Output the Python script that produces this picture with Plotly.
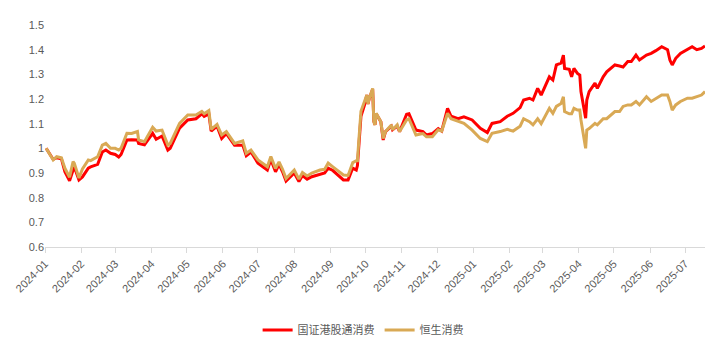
import plotly.graph_objects as go

dates = [
    "2024-01-02", "2024-01-08", "2024-01-11", "2024-01-15", "2024-01-18", "2024-01-22", "2024-01-25",
    "2024-01-26", "2024-01-30", "2024-02-02", "2024-02-07", "2024-02-09", "2024-02-15", "2024-02-19",
    "2024-02-22", "2024-02-26", "2024-03-01", "2024-03-04", "2024-03-06", "2024-03-11", "2024-03-15",
    "2024-03-20", "2024-03-21", "2024-03-26", "2024-04-02", "2024-04-05", "2024-04-10", "2024-04-15",
    "2024-04-17", "2024-04-25", "2024-05-02", "2024-05-09", "2024-05-14", "2024-05-16", "2024-05-20",
    "2024-05-22", "2024-05-27", "2024-05-31", "2024-06-04", "2024-06-11", "2024-06-18", "2024-06-21",
    "2024-06-25", "2024-07-01", "2024-07-09", "2024-07-12", "2024-07-16", "2024-07-19", "2024-07-22",
    "2024-07-25", "2024-08-01", "2024-08-05", "2024-08-08", "2024-08-12", "2024-08-16", "2024-08-23",
    "2024-08-27", "2024-08-30", "2024-09-03", "2024-09-12", "2024-09-16", "2024-09-20", "2024-09-23",
    "2024-09-24", "2024-09-25", "2024-09-26", "2024-09-27", "2024-09-30", "2024-10-02", "2024-10-03",
    "2024-10-04", "2024-10-07", "2024-10-08", "2024-10-09", "2024-10-10", "2024-10-14", "2024-10-16",
    "2024-10-18", "2024-10-23", "2024-10-24", "2024-10-28", "2024-10-30", "2024-11-05", "2024-11-07",
    "2024-11-13", "2024-11-19", "2024-11-22", "2024-11-27", "2024-12-02", "2024-12-05", "2024-12-10",
    "2024-12-13", "2024-12-19", "2024-12-24", "2024-12-31", "2025-01-07", "2025-01-13", "2025-01-17",
    "2025-01-24", "2025-01-30", "2025-02-04", "2025-02-10", "2025-02-13", "2025-02-18", "2025-02-21",
    "2025-02-25", "2025-02-28", "2025-03-07", "2025-03-10", "2025-03-13", "2025-03-17", "2025-03-19",
    "2025-03-20", "2025-03-24", "2025-03-26", "2025-03-28", "2025-03-31", "2025-04-02", "2025-04-03",
    "2025-04-07", "2025-04-08", "2025-04-10", "2025-04-15", "2025-04-17", "2025-04-22", "2025-04-25",
    "2025-05-02", "2025-05-06", "2025-05-09", "2025-05-13", "2025-05-16", "2025-05-20", "2025-05-23",
    "2025-05-29", "2025-06-02", "2025-06-06", "2025-06-11", "2025-06-16", "2025-06-18", "2025-06-20",
    "2025-06-23", "2025-06-27", "2025-07-03", "2025-07-07", "2025-07-11", "2025-07-15", "2025-07-18",
]

hk_connect_consumption = [
    1.000, 0.955, 0.962, 0.958, 0.905, 0.868, 0.912,
    0.925, 0.872, 0.884, 0.920, 0.925, 0.935, 0.985,
    0.993, 0.980, 0.975, 0.965, 0.975, 1.034, 1.035,
    1.034, 1.020, 1.014, 1.061, 1.037, 1.050, 0.993,
    1.000, 1.082, 1.115, 1.120, 1.140, 1.130, 1.140,
    1.070, 1.090, 1.040, 1.060, 1.013, 1.013, 0.970,
    0.985, 0.940, 0.912, 0.955, 0.905, 0.935, 0.905,
    0.867, 0.900, 0.865, 0.890, 0.875, 0.885, 0.895,
    0.900, 0.920, 0.910, 0.872, 0.872, 0.920, 0.912,
    0.930, 1.000, 1.100, 1.130, 1.175, 1.216, 1.180,
    1.200, 1.240, 1.110, 1.095, 1.140, 1.108, 1.034,
    1.068, 1.090, 1.075, 1.090, 1.068, 1.138, 1.140,
    1.074, 1.068, 1.054, 1.060, 1.080, 1.070, 1.162,
    1.130, 1.120, 1.128, 1.115, 1.081, 1.064, 1.101,
    1.108, 1.130, 1.142, 1.165, 1.196, 1.203, 1.196,
    1.243, 1.216, 1.290, 1.277, 1.338, 1.345, 1.378,
    1.324, 1.320, 1.290, 1.324, 1.304, 1.297, 1.230,
    1.122, 1.196, 1.230, 1.264, 1.243, 1.290, 1.310,
    1.338, 1.334, 1.330, 1.352, 1.352, 1.378, 1.358,
    1.378, 1.385, 1.396, 1.412, 1.400, 1.358, 1.338,
    1.365, 1.385, 1.400, 1.412, 1.400, 1.405, 1.415,
]

hs_consumption = [
    1.000, 0.953, 0.966, 0.962, 0.919, 0.883, 0.946,
    0.940, 0.880, 0.916, 0.953, 0.950, 0.966, 1.013,
    1.020, 1.000, 1.000, 0.993, 1.000, 1.061, 1.060,
    1.068, 1.034, 1.027, 1.085, 1.070, 1.074, 1.013,
    1.020, 1.101, 1.135, 1.135, 1.150, 1.140, 1.153,
    1.077, 1.097, 1.054, 1.068, 1.020, 1.030, 0.980,
    0.993, 0.953, 0.925, 0.967, 0.918, 0.945, 0.915,
    0.878, 0.912, 0.875, 0.902, 0.888, 0.900, 0.912,
    0.915, 0.940, 0.925, 0.892, 0.890, 0.942, 0.950,
    0.950, 1.020, 1.110, 1.150, 1.190, 1.216, 1.180,
    1.200, 1.243, 1.108, 1.095, 1.142, 1.108, 1.040,
    1.068, 1.095, 1.075, 1.095, 1.068, 1.115, 1.120,
    1.054, 1.060, 1.047, 1.047, 1.075, 1.070, 1.142,
    1.120, 1.108, 1.101, 1.074, 1.040, 1.027, 1.061,
    1.068, 1.077, 1.070, 1.090, 1.120, 1.108, 1.095,
    1.120, 1.100, 1.162, 1.142, 1.170, 1.182, 1.209,
    1.149, 1.140, 1.140, 1.162, 1.155, 1.155, 1.115,
    1.000, 1.074, 1.080, 1.101, 1.095, 1.120, 1.120,
    1.149, 1.149, 1.170, 1.176, 1.176, 1.190, 1.176,
    1.209, 1.190, 1.203, 1.216, 1.216, 1.190, 1.155,
    1.176, 1.190, 1.203, 1.203, 1.209, 1.216, 1.230,
]

series_names = ["国证港股通消费", "恒生消费"]
y_tick_values = [0.6, 0.7, 0.8, 0.9, 1.0, 1.1, 1.2, 1.3, 1.4, 1.5]
y_tick_labels = ["0.6", "0.7", "0.8", "0.9", "1", "1.1", "1.2", "1.3", "1.4", "1.5"]

RED = "#FF0000"
GOLD = "#D9A955"

fig = go.Figure()
fig.add_trace(go.Scatter(x=dates, y=hk_connect_consumption, mode="lines", name=series_names[0],
                         line=dict(color=RED, width=3)))
fig.add_trace(go.Scatter(x=dates, y=hs_consumption, mode="lines", name=series_names[1],
                         line=dict(color=GOLD, width=3)))

# The page body has an 8px margin, so the figure is sized to fit the remaining view.
fig.update_layout(
    width=708, height=350,
    margin=dict(l=37, r=11, t=17, b=111, autoexpand=False),
    paper_bgcolor="white", plot_bgcolor="white",
    font=dict(family="Liberation Sans, Arial, Noto Sans CJK SC", size=11, color="#595959"),
    showlegend=True,
    legend=dict(orientation="h", x=0.482, xanchor="center", y=-0.374, yanchor="middle",
                font=dict(family="Liberation Sans, Noto Sans CJK SC", size=11, color="#595959"),
                itemwidth=30, tracegroupgap=0),
    xaxis=dict(type="date", range=["2024-01-01", "2025-07-18"], dtick="M1", tick0="2024-01-01",
               tickformat="%Y-%m", tickangle=-45, showgrid=False, zeroline=False,
               showline=True, linecolor="#D9D9D9", linewidth=1,
               ticks="outside", ticklen=5, tickcolor="#D9D9D9", automargin=False,
               tickfont=dict(size=11, color="#595959")),
    yaxis=dict(range=[0.6, 1.5], tickvals=y_tick_values, ticktext=y_tick_labels,
               showgrid=False, zeroline=False, showline=False, ticks="", automargin=False,
               tickfont=dict(size=11, color="#595959")),
)

fig.write_html("out.html")
